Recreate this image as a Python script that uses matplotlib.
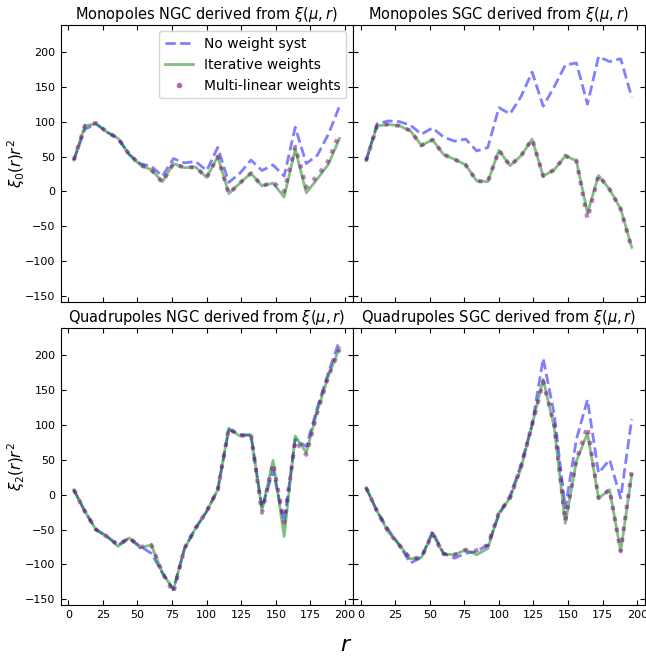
import numpy as np
import matplotlib
matplotlib.use("Agg")
import matplotlib.pyplot as plt
from matplotlib.lines import Line2D

# separation bin centres
r = np.arange(4, 200, 8)

# Monopole, NGC
mono_ngc_noweight = [45, 89, 97, 85, 76, 53, 40, 36, 22, 47, 41, 43, 30, 63, 13, 26, 45, 30, 38, 22, 92, 40, 52, 82, 122]
mono_ngc_iter = [45, 94, 97, 85, 76, 53, 38, 31, 14, 40, 34, 35, 20, 50, -3, 12, 26, 8, 12, -8, 61, -2, 18, 39, 76]
mono_ngc_multi = [45, 94, 98, 85, 76, 53, 38, 31, 13, 40, 34, 35, 20, 50, -3, 12, 26, 8, 13, 0, 64, 6, 22, 44, 83]

# Monopole, SGC
mono_sgc_noweight = [44, 97, 101, 100, 95, 82, 91, 78, 72, 75, 58, 63, 120, 111, 136, 171, 122, 150, 181, 184, 125, 193, 186, 190, 135]
mono_sgc_iter = [44, 94, 96, 94, 87, 66, 74, 53, 46, 38, 15, 14, 59, 37, 51, 75, 22, 31, 51, 44, -31, 23, 3, -25, -80]
mono_sgc_multi = [44, 94, 96, 94, 87, 66, 74, 53, 46, 38, 15, 14, 59, 37, 51, 75, 22, 31, 51, 44, -39, 23, 3, -25, -82]

# Quadrupole, NGC
quad_ngc_noweight = [7, -24, -50, -60, -72, -62, -74, -84, -112, -136, -77, -48, -24, 7, 93, 86, 85, -19, 34, -39, 79, 69, 125, 175, 221]
quad_ngc_iter = [7, -24, -50, -60, -74, -62, -76, -72, -112, -136, -77, -48, -24, 7, 95, 84, 86, -22, 49, -60, 84, 60, 120, 170, 210]
quad_ngc_multi = [7, -24, -50, -60, -72, -62, -75, -72, -112, -140, -77, -48, -24, 7, 95, 84, 86, -26, 45, -40, 77, 57, 118, 170, 208]

# Quadrupole, SGC
quad_sgc_noweight = [10, -24, -50, -72, -98, -90, -53, -84, -91, -84, -81, -72, -29, -2, 43, 100, 195, 115, -19, 79, 136, 31, 50, -5, 108]
quad_sgc_iter = [10, -24, -53, -72, -92, -90, -56, -85, -86, -79, -86, -77, -26, -5, 38, 100, 165, 96, -41, 48, 88, -5, 7, -81, 29]
quad_sgc_multi = [10, -24, -53, -72, -92, -90, -56, -85, -86, -79, -80, -72, -26, -5, 40, 100, 162, 100, -38, 50, 97, -5, 7, -81, 34]

panels = [
    ("Monopoles NGC derived from $\\xi(\\mu, r)$", mono_ngc_noweight, mono_ngc_iter, mono_ngc_multi),
    ("Monopoles SGC derived from $\\xi(\\mu, r)$", mono_sgc_noweight, mono_sgc_iter, mono_sgc_multi),
    ("Quadrupoles NGC derived from $\\xi(\\mu, r)$", quad_ngc_noweight, quad_ngc_iter, quad_ngc_multi),
    ("Quadrupoles SGC derived from $\\xi(\\mu, r)$", quad_sgc_noweight, quad_sgc_iter, quad_sgc_multi),
]

fig, axes = plt.subplots(2, 2, figsize=(6.46, 6.57), dpi=100, sharex=True, sharey=True)
fig.subplots_adjust(left=0.0937, right=0.9985, bottom=0.0791, top=0.9627,
                    wspace=0.0, hspace=0.093)

for ax, (title, nw, it, ml) in zip(axes.flat, panels):
    ax.plot(r, nw, color="blue", ls="--", lw=2, alpha=0.5, label="No weight syst")
    ax.plot(r, it, color="green", ls="-", lw=2, alpha=0.5, label="Iterative weights")
    ax.plot(r, ml, color="purple", ls=":", lw=3, alpha=0.5, label="Multi-linear weights")
    ax.set_title(title, fontsize=10.5, pad=4)
    ax.tick_params(direction="in", top=True, right=True, labelsize=8, length=3.5)

axes[0, 0].set_ylabel("$\\xi_0(r)r^2$", fontsize=11)
axes[1, 0].set_ylabel("$\\xi_2(r)r^2$", fontsize=11)
for a in axes[:, 0]:
    a.yaxis.set_label_coords(-0.115, 0.5)
axes[0, 0].set_yticks([-150, -100, -50, 0, 50, 100, 150, 200])
axes[0, 0].set_xticks([0, 25, 50, 75, 100, 125, 150, 175, 200])

handles = [
    Line2D([], [], color="blue", ls="--", lw=2, alpha=0.5),
    Line2D([], [], color="green", ls="-", lw=2, alpha=0.5),
    Line2D([], [], color="purple", ls="none", marker="o", markersize=3, alpha=0.5),
]
axes[0, 0].legend(handles, ["No weight syst", "Iterative weights", "Multi-linear weights"],
                  loc="upper right", fontsize=10, borderaxespad=0.5)

fig.text(0.536, 0.003, "$r$", fontsize=16, ha="center", va="bottom")

fig.savefig("out.png", dpi=100)
